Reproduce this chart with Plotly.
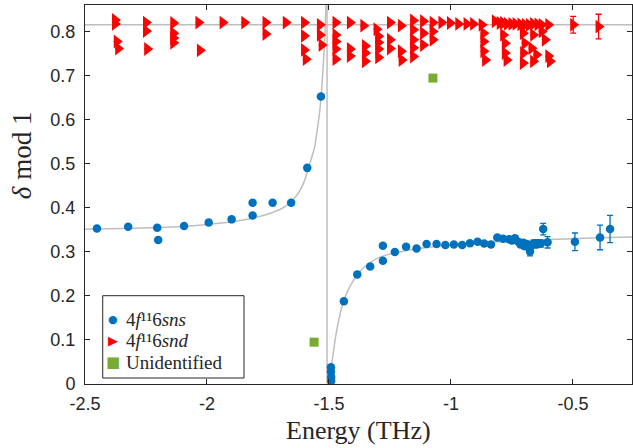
import plotly.graph_objects as go

# ---------------- data ----------------
sns_E = [-2.451, -2.323, -2.204, -2.200, -2.094, -1.993, -1.899, -1.813, -1.813,
         -1.731, -1.655, -1.589, -1.533,
         -1.492, -1.492, -1.491, -1.491,
         -1.439, -1.384, -1.331, -1.279, -1.279, -1.230, -1.184, -1.141, -1.100,
         -1.059, -1.023, -0.988, -0.954, -0.922, -0.891, -0.864, -0.836, -0.810,
         -0.786, -0.762, -0.750, -0.738, -0.724, -0.715, -0.704, -0.698, -0.690,
         -0.676, -0.674, -0.667, -0.660, -0.650, -0.642, -0.632, -0.622, -0.604,
         -0.492, -0.389, -0.348]
sns_d = [0.353, 0.357, 0.355, 0.327, 0.359, 0.367, 0.374, 0.383, 0.412,
         0.412, 0.412, 0.491, 0.653,
         0.038, 0.028, 0.016, 0.007,
         0.188, 0.249, 0.267, 0.280, 0.314, 0.300, 0.312, 0.308, 0.318,
         0.318, 0.316, 0.317, 0.316, 0.320, 0.323, 0.319, 0.317, 0.333,
         0.330, 0.329, 0.326, 0.331, 0.323, 0.317, 0.321, 0.313, 0.318,
         0.301, 0.312, 0.316, 0.320, 0.317, 0.320, 0.319, 0.352, 0.322,
         0.323, 0.333, 0.352]
sns_err = [0, 0, 0, 0, 0, 0, 0, 0, 0,
           0, 0, 0, 0,
           0, 0, 0, 0,
           0, 0, 0, 0, 0, 0, 0, 0, 0,
           0, 0, 0, 0, 0, 0, 0, 0, 0,
           0, 0.003, 0.004, 0.005, 0.004, 0.005, 0.005, 0.006, 0.005,
           0.010, 0.006, 0.006, 0.007, 0.007, 0.008, 0.008, 0.013, 0.013,
           0.020, 0.028, 0.031]

snd_E = [-2.377, -2.377, -2.370, -2.364,
         -2.250, -2.250, -2.245,
         -2.138, -2.138, -2.138, -2.138,
         -2.035, -2.029,
         -1.936, -1.847,
         -1.760, -1.760,
         -1.677,
         -1.602, -1.602, -1.602, -1.595,
         -1.537, -1.537, -1.530,
         -1.473, -1.473, -1.473, -1.473, -1.473,
         -1.414, -1.414, -1.414,
         -1.359, -1.352, -1.352, -1.352,
         -1.305, -1.298, -1.298, -1.298, -1.298,
         -1.250, -1.250, -1.250,
         -1.205, -1.205, -1.202,
         -1.155, -1.155, -1.155, -1.155, -1.155,
         -1.114, -1.114, -1.114,
         -1.075, -1.075, -1.075,
         -1.039, -1.004, -0.970, -0.936, -0.909,
         -0.874, -0.867, -0.867, -0.867, -0.860,
         -0.820, -0.800, -0.786, -0.770, -0.752, -0.735, -0.715, -0.697,
         -0.680, -0.663, -0.645, -0.628, -0.601,
         -0.786, -0.779, -0.779, -0.772,
         -0.705, -0.698, -0.704, -0.705,
         -0.663, -0.670, -0.650, -0.663,
         -0.628, -0.615, -0.601, -0.594,
         -0.499, -0.395]
snd_d = [0.827, 0.818, 0.778, 0.762,
         0.821, 0.802, 0.761,
         0.820, 0.797, 0.786, 0.775,
         0.821, 0.758,
         0.821, 0.821,
         0.821, 0.795,
         0.821,
         0.821, 0.791, 0.759, 0.738,
         0.816, 0.793, 0.770,
         0.821, 0.793, 0.778, 0.761, 0.738,
         0.821, 0.761, 0.745,
         0.814, 0.768, 0.752, 0.733,
         0.806, 0.790, 0.776, 0.761, 0.742,
         0.821, 0.782, 0.762,
         0.814, 0.756, 0.736,
         0.826, 0.805, 0.782, 0.764, 0.744,
         0.824, 0.797, 0.770,
         0.821, 0.801, 0.782,
         0.821, 0.820, 0.818, 0.818, 0.818,
         0.816, 0.797, 0.778, 0.756, 0.736,
         0.824, 0.820, 0.820, 0.818, 0.818, 0.818, 0.817, 0.816,
         0.816, 0.818, 0.817, 0.816, 0.816,
         0.793, 0.774, 0.752, 0.736,
         0.797, 0.774, 0.752, 0.729,
         0.793, 0.763, 0.748, 0.733,
         0.801, 0.782, 0.745, 0.733,
         0.816, 0.812]
snd_err = [0] * (len(snd_E) - 2) + [0.019, 0.028]

unid_E = [-1.561, -1.074]
unid_d = [0.095, 0.695]

# fitted s-series curve, two branches around the perturber
fitL_E = [-2.5, -2.3, -2.1, -1.95, -1.82, -1.74, -1.68, -1.63, -1.60, -1.58,
          -1.56, -1.55, -1.54, -1.533, -1.525, -1.518, -1.512]
fitL_d = [0.3515, 0.354, 0.358, 0.365, 0.376, 0.388, 0.403, 0.430, 0.462, 0.498,
          0.535, 0.570, 0.610, 0.648, 0.710, 0.780, 0.861]
fitR_E = [-1.498, -1.49, -1.48, -1.475, -1.46, -1.44, -1.42, -1.40, -1.38, -1.35,
          -1.33, -1.30, -1.25, -1.20, -1.14, -1.0, -0.8, -0.6, -0.4, -0.258]
fitR_d = [0.0, 0.04, 0.08, 0.10, 0.145, 0.188, 0.215, 0.235, 0.252, 0.268,
          0.276, 0.286, 0.295, 0.301, 0.307, 0.316, 0.323, 0.328, 0.332, 0.334]

# d-series fitted constant and perturber position
snd_fit_E = [-2.5, -0.258]
snd_fit_d = [0.816, 0.816]
pert_E = [-1.508, -1.508]
pert_d = [0.0, 0.861]

x_ticks = [-2.5, -2, -1.5, -1, -0.5]
x_ticklabels = ["-2.5", "-2", "-1.5", "-1", "-0.5"]
y_ticks = [0, 0.1, 0.2, 0.3, 0.4, 0.5, 0.6, 0.7, 0.8]
y_ticklabels = ["0", "0.1", "0.2", "0.3", "0.4", "0.5", "0.6", "0.7", "0.8"]

legend_labels = ["4<i>f</i>¹¹6<i>sns</i>",
                 "4<i>f</i>¹¹6<i>snd</i>",
                 "Unidentified"]

# ---------------- styling ----------------
BLUE = "#0072BD"
RED = "#FF0000"
GREEN = "#77AC30"
GREY = "#BEBEBE"
AX = "#262626"
SERIF = "Liberation Serif, Times New Roman, serif"
SANS = "Liberation Sans, Arial, sans-serif"

fig = go.Figure()

line_style = dict(color=GREY, width=1.5)
fig.add_trace(go.Scatter(x=fitL_E, y=fitL_d, mode="lines", line=dict(shape="spline", smoothing=0.6, **line_style),
                         showlegend=False, hoverinfo="skip"))
fig.add_trace(go.Scatter(x=fitR_E, y=fitR_d, mode="lines", line=dict(shape="spline", smoothing=0.6, **line_style),
                         showlegend=False, hoverinfo="skip"))
fig.add_trace(go.Scatter(x=snd_fit_E, y=snd_fit_d, mode="lines", line=line_style,
                         showlegend=False, hoverinfo="skip"))
fig.add_trace(go.Scatter(x=pert_E, y=pert_d, mode="lines", line=line_style,
                         showlegend=False, hoverinfo="skip"))

fig.add_trace(go.Scatter(
    x=sns_E, y=sns_d, mode="markers", name=legend_labels[0], showlegend=False,
    marker=dict(symbol="circle", size=8.5, color=BLUE),
    error_y=dict(type="data", array=sns_err, visible=True, color=BLUE, thickness=1.3, width=3),
))
fig.add_trace(go.Scatter(
    x=snd_E, y=snd_d, mode="markers", name=legend_labels[1], showlegend=False,
    marker=dict(symbol="triangle-right", size=12, color=RED),
    error_y=dict(type="data", array=snd_err, visible=True, color=RED, thickness=1.3, width=3),
))
fig.add_trace(go.Scatter(
    x=unid_E, y=unid_d, mode="markers", name=legend_labels[2], showlegend=False,
    marker=dict(symbol="square", size=9, color=GREEN),
))

axis_common = dict(
    showgrid=False, zeroline=False, showline=True, linecolor=AX, linewidth=1,
    mirror="ticks", ticks="inside", ticklen=5, tickwidth=1, tickcolor=AX,
    tickfont=dict(family=SANS, size=18, color=AX),
)

# legend box drawn in paper coordinates (compact, MATLAB style)
leg_x0, leg_x1, leg_y0, leg_y1 = 0.0324, 0.2907, 0.0158, 0.233
leg_rows = [0.1715, 0.1147, 0.0580]
leg_sym_x, leg_txt_x = 0.0512, 0.0715
leg_symbols = [("●", BLUE, 11), ("▶", RED, 13), ("■", GREEN, 15)]

annotations = [
    dict(text="Energy (THz)", xref="paper", yref="paper", x=0.5, y=-0.1214,
         xanchor="center", yanchor="middle", showarrow=False,
         font=dict(family=SERIF, size=26, color=AX)),
    dict(text="<i>δ</i> mod 1", xref="paper", yref="paper", x=-0.115, y=0.604,
         xanchor="center", yanchor="middle", showarrow=False, textangle=-90,
         font=dict(family=SERIF, size=27, color=AX)),
]
for (sym, col, sz), lab, yy in zip(leg_symbols, legend_labels, leg_rows):
    annotations.append(dict(text=sym, xref="paper", yref="paper", x=leg_sym_x, y=yy,
                            xanchor="center", yanchor="middle", showarrow=False,
                            font=dict(family="DejaVu Sans", size=sz, color=col)))
    annotations.append(dict(text=lab, xref="paper", yref="paper", x=leg_txt_x, y=yy,
                            xanchor="left", yanchor="middle", showarrow=False,
                            font=dict(family=SERIF, size=19, color=AX)))

fig.update_layout(
    width=633, height=448,
    margin=dict(l=85, r=1, t=5, b=64),
    paper_bgcolor="white", plot_bgcolor="white",
    showlegend=False,
    xaxis=dict(range=[-2.5, -0.258], tickvals=x_ticks, ticktext=x_ticklabels,
               ticklabelstandoff=3, **axis_common),
    yaxis=dict(range=[0, 0.861], tickvals=y_ticks, ticktext=y_ticklabels,
               ticklabelstandoff=5, **axis_common),
    shapes=[dict(type="rect", xref="paper", yref="paper", x0=leg_x0, x1=leg_x1, y0=leg_y0, y1=leg_y1,
                 line=dict(color=AX, width=1), fillcolor="white", layer="above")],
    annotations=annotations,
)

fig.write_html("out.html", post_script="document.body.style.margin='0';",
               config={"displayModeBar": False})
